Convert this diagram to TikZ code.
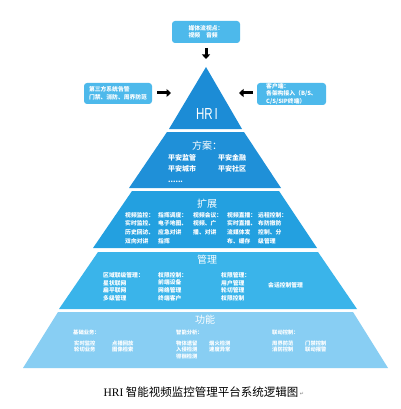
\documentclass[tikz,border=0pt]{standalone}
\usepackage{fontspec}
\usepackage{graphicx}
\usetikzlibrary{arrows.meta}
\newfontfamily\cjk{Noto Sans CJK SC}
\newfontfamily\capserif{Liberation Serif}
\newfontfamily\symfont{DejaVu Sans}
\newfontfamily\hrifont{Liberation Sans}
\definecolor{tierA}{HTML}{1C8CD6}
\definecolor{tierB}{HTML}{1F90D8}
\definecolor{tierC}{HTML}{23A0E0}
\definecolor{tierD}{HTML}{3AB4EA}
\definecolor{tierE}{HTML}{88CEF3}
\definecolor{boxc}{HTML}{4DB9EB}
\begin{document}
\begin{tikzpicture}[x=1pt,y=-1pt,
  tiertitle/.style={font=\cjk\fontsize{10}{12}\selectfont, text=white, inner sep=0},
  itemA/.style={font=\cjk\bfseries\fontsize{7}{11}\selectfont, text=white, align=left, anchor=north west, inner sep=0},
  itemB/.style={font=\cjk\bfseries\fontsize{5.8}{8.7}\selectfont, text=white, align=left, anchor=north west, inner sep=0},
  itemC/.style={font=\cjk\bfseries\fontsize{5.8}{7.8}\selectfont, text=white, align=left, anchor=north west, inner sep=0},
  itemD/.style={font=\cjk\bfseries\fontsize{5.3}{6.6}\selectfont, text=white, align=left, anchor=north west, inner sep=0},
  infobox/.style={fill=boxc, rounded corners=3pt, text=white, align=left, inner sep=0,
    font=\cjk\bfseries\fontsize{5.8}{7.5}\selectfont},
  blockarrow/.style={line width=3pt, -{Triangle[length=4.5pt,width=8pt]}}
]
\useasboundingbox (0,0) rectangle (400,409);
\fill[white] (0,0) rectangle (400,409);

% tiers
\fill[tierA] (206,67) -- (242,129) -- (169,129) -- cycle;
\fill[tierB] (167,132) -- (244,132) -- (281,188) -- (129,188) -- cycle;
\fill[tierC] (132,191) -- (279,191) -- (317,248) -- (93,248) -- cycle;
\fill[tierD] (98,252) -- (318,252) -- (357,309) -- (59,309) -- cycle;
\fill[tierE] (58,312) -- (353,312) -- (388,368) -- (23,368) -- cycle;

% HRI
\node[text=white, inner sep=0, font=\hrifont\fontsize{16}{16}\selectfont] (hri) at (207,114) {\scalebox{0.72}[1]{HR\,I}};

% fang'an
\node[tiertitle] (t1) at (207,146) {方案：};
\node[itemA] (f1) at (168,154) {平安监管\\平安城市\\......};
\node[itemA] (f2) at (218,154) {平安金融\\平安社区};

% kuozhan
\node[tiertitle] (t2) at (207,204) {扩展};
\node[itemB] (k1) at (125,212) {视频监控：\\实时监控、\\历史回访、\\双向对讲};
\node[itemB] (k2) at (158,212) {指挥调度：\\电子地图、\\应急对讲\\指挥};
\node[itemB] (k3) at (193,212) {视频会议：\\视频、广\\播、对讲};
\node[itemB] (k4) at (227,212) {视频直播：\\实时直播、\\流媒体发\\布、缓存};
\node[itemB] (k5) at (258,212) {远程控制：\\布防撤防\\控制、分\\级管理};

% guanli
\node[tiertitle] (t3) at (207,260) {管理};
\node[itemC] (g1) at (103,272) {区域联级管理：\\星状联网\\扁平联网\\多级管理};
\node[itemC] (g2) at (158,272) {权限控制：\\前端设备\\网络管理\\终端客户};
\node[itemC] (g3) at (221,272) {权限管理：\\用户管理\\轮切管理\\权限控制};
\node[itemC, anchor=west] (g4) at (268,285) {会话控制管理};

% gongneng
\node[tiertitle] (t4) at (205,320) {功能};
\node[itemD] (n1) at (73,329.5) {基础业务：};
\node[itemD] (n1a) at (74,340.5) {实时监控\\轮切业务};
\node[itemD] (n1b) at (112,340.5) {点播回放\\图像检索};
\node[itemD] (n2) at (176,329.5) {智能分析：};
\node[itemD] (n2a) at (176,340.5) {物体遗留\\入侵检测\\徘徊检测};
\node[itemD] (n2b) at (209,340.5) {烟火检测\\速度异常};
\node[itemD] (n3) at (272,329.5) {联动控制：};
\node[itemD] (n3a) at (272,340.5) {周界防范\\消防控制};
\node[itemD] (n3b) at (305,340.5) {门禁控制\\联动报警};

% boxes
\node[infobox, minimum width=68pt, minimum height=22pt] (topbox) at (206,32) {媒体流视点：\\视频\quad 音频};
\node[infobox, minimum width=68pt, minimum height=21pt] (leftbox) at (118,93.5) {第三方系统告警\\门禁、消防、周界防范};
\node[infobox, minimum width=69pt, minimum height=22pt] (rightbox) at (291.5,94) {客户端：\\各架构接入（B/S、\\C/S/SIP终端）};

% arrows
\coordinate (topA) at (206,48);
\coordinate (topB) at (206,59);
\coordinate (leftA) at (157,93);
\coordinate (leftB) at (171,93);
\coordinate (rightA) at (253,93);
\coordinate (rightB) at (239,93);
\draw[blockarrow] (topA) -- (topB);
\draw[blockarrow] (leftA) -- (leftB);
\draw[blockarrow] (rightA) -- (rightB);

% caption
\node[inner sep=0, font=\cjk\fontsize{11.5}{12}\selectfont] (cap) at (201,392) {{\capserif HRI} 智能视频监控管理平台系统逻辑图};
\node[inner sep=0, anchor=west, text=gray, font=\symfont\fontsize{5}{6}\selectfont] (mark) at ([xshift=1pt,yshift=-2pt]cap.east) {↵};
\end{tikzpicture}
\end{document}
